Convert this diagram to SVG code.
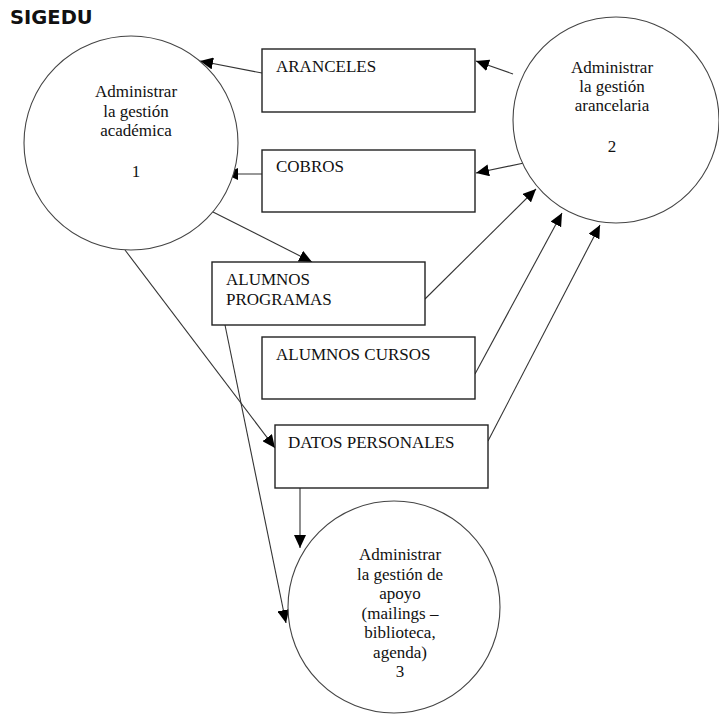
<svg xmlns="http://www.w3.org/2000/svg" width="719" height="715" viewBox="0 0 719 715">
  <style>
    .proc { fill: #fff; stroke: #444; stroke-width: 1.1; }
    .store { fill: #fff; stroke: #222; stroke-width: 1.4; }
    .lbl { font-family: "Liberation Serif", "DejaVu Serif", "Times New Roman", serif; font-size: 17px; fill: #111; }
    .mid { text-anchor: middle; }
    .flow { fill: none; stroke: #333; stroke-width: 1.1; marker-end: url(#arrow); }
    .title { font-family: "DejaVu Sans", Verdana, sans-serif; font-weight: bold; font-size: 19.5px; fill: #111; }
  </style>
  <defs>
    <marker id="arrow" markerUnits="userSpaceOnUse" markerWidth="14" markerHeight="12" refX="13" refY="6" orient="auto">
      <path d="M0,0 L13,6 L0,12 Z" fill="#000"/>
    </marker>
  </defs>
  <rect width="719" height="715" fill="#fff"/>

  <text class="title" x="10" y="24">SIGEDU</text>

  <!-- flows between processes and data stores -->
  <g id="connectors">
    <line class="flow" x1="262" y1="73" x2="200" y2="61"/>
    <line class="flow" x1="513" y1="74" x2="476" y2="61"/>
    <line class="flow" x1="262" y1="174" x2="225" y2="174"/>
    <line class="flow" x1="524" y1="163" x2="476" y2="173"/>
    <line class="flow" x1="213" y1="212" x2="312" y2="262"/>
    <line class="flow" x1="425" y1="299" x2="536" y2="189"/>
    <line class="flow" x1="475" y1="374" x2="562" y2="213"/>
    <line class="flow" x1="488" y1="441" x2="600" y2="225"/>
    <line class="flow" x1="125" y1="250" x2="275" y2="448"/>
    <line class="flow" x1="225" y1="325" x2="286" y2="623"/>
    <line class="flow" x1="300" y1="488" x2="300" y2="548"/>
  </g>

  <g id="proc1">
    <circle class="proc" cx="131" cy="143" r="107"/>
    <text class="lbl mid" x="136" y="97">Administrar</text>
    <text class="lbl mid" x="136" y="117">la gestión</text>
    <text class="lbl mid" x="136" y="136">académica</text>
    <text class="lbl mid" x="136" y="177">1</text>
  </g>

  <g id="proc2">
    <circle class="proc" cx="616" cy="120" r="103"/>
    <text class="lbl mid" x="612" y="73">Administrar</text>
    <text class="lbl mid" x="612" y="92">la gestión</text>
    <text class="lbl mid" x="612" y="111">arancelaria</text>
    <text class="lbl mid" x="612" y="152">2</text>
  </g>

  <g id="proc3">
    <circle class="proc" cx="394" cy="607" r="106"/>
    <text class="lbl mid" x="400" y="560">Administrar</text>
    <text class="lbl mid" x="400" y="580">la gestión de</text>
    <text class="lbl mid" x="400" y="599">apoyo</text>
    <text class="lbl mid" x="400" y="619">(mailings –</text>
    <text class="lbl mid" x="400" y="638">biblioteca,</text>
    <text class="lbl mid" x="400" y="658">agenda)</text>
    <text class="lbl mid" x="400" y="677">3</text>
  </g>

  <g id="aranceles">
    <rect class="store" x="262" y="49" width="213" height="63"/>
    <text class="lbl" x="276" y="72">ARANCELES</text>
  </g>

  <g id="cobros">
    <rect class="store" x="262" y="150" width="213" height="62"/>
    <text class="lbl" x="276" y="172">COBROS</text>
  </g>

  <g id="alumnos-programas">
    <rect class="store" x="212" y="262" width="213" height="63"/>
    <text class="lbl" x="226" y="285">ALUMNOS</text>
    <text class="lbl" x="226" y="305">PROGRAMAS</text>
  </g>

  <g id="alumnos-cursos">
    <rect class="store" x="262" y="337" width="213" height="62"/>
    <text class="lbl" x="276" y="360">ALUMNOS CURSOS</text>
  </g>

  <g id="datos-personales">
    <rect class="store" x="275" y="425" width="213" height="63"/>
    <text class="lbl" x="288" y="448">DATOS PERSONALES</text>
  </g>
</svg>
